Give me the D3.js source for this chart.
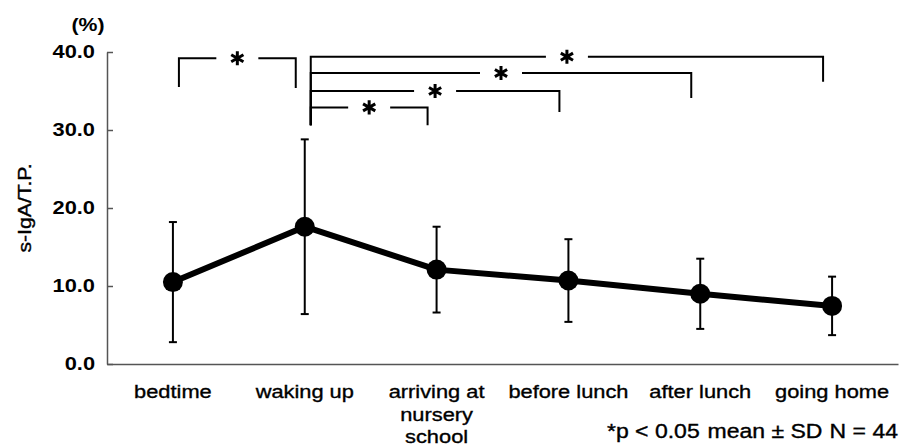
<!DOCTYPE html>
<html>
<head>
<meta charset="utf-8">
<script src="https://cdn.jsdelivr.net/npm/d3@7"></script>
<style>
  body { margin: 0; background: #fff; }
  text { font-family: "Liberation Sans", Arial, sans-serif; fill: #000; }
</style>
</head>
<body>
<div id="chart"></div>
<script>
// time points and mean ± SD of s-IgA/T.P. (%)
const categories = ['bedtime', 'waking up', 'arriving at nursery school', 'before lunch', 'after lunch', 'going home'];
const labelLines = [['bedtime'], ['waking up'], ['arriving at', 'nursery', 'school'], ['before lunch'], ['after lunch'], ['going home']];
const means = [10.5, 17.6, 12.1, 10.7, 9.0, 7.45];
const sds = [7.7, 11.2, 5.5, 5.3, 4.5, 3.75];
const yTicks = [0, 10, 20, 30, 40];

// significance brackets (indices into categories, heights in % units)
const compFrom = [0, 1, 1, 1, 1];
const compTo = [1, 2, 3, 4, 5];
const compLevel = [39.2, 32.9, 35.0, 37.3, 39.4];
const compLeftEnd = [35.5, 30.6, 30.6, 30.6, 30.6];
const compRightEnd = [35.4, 30.6, 32.3, 34.1, 36.2];

const W = 909, H = 446;
const margin = { top: 52, right: 11, bottom: 82, left: 107 };
const stretch = 1.18; // text in the original is a little wide

const svg = d3.select('#chart').append('svg')
  .attr('width', W).attr('height', H);

const x = d3.scaleBand()
  .domain(categories)
  .range([margin.left, W - margin.right]);
const cx = c => x(c) + x.bandwidth() / 2;

const y = d3.scaleLinear()
  .domain([0, 40])
  .range([H - margin.bottom, margin.top]);

function label(g, px, py, str, size, weight, anchor, rot) {
  const t = g.append('text')
    .attr('transform', `translate(${px},${py})` + (rot ? ` rotate(${rot})` : '') + ` scale(${stretch},1)`)
    .attr('text-anchor', anchor || 'middle')
    .style('font-size', size + 'px')
    .style('font-weight', weight || 'normal')
    .text(str);
  if (weight !== 'bold') t.attr('stroke', '#000').attr('stroke-width', 0.35);
  return t;
}

// y axis
const yAxis = svg.append('g')
  .attr('transform', `translate(${margin.left},0)`)
  .call(d3.axisLeft(y).tickValues(yTicks).tickFormat(d3.format('.1f'))
    .tickSizeInner(-6).tickSizeOuter(0).tickPadding(12));
yAxis.select('.domain').attr('stroke', '#555').attr('stroke-width', 1.5);
yAxis.selectAll('.tick line').attr('stroke', '#555').attr('stroke-width', 1.5);
yAxis.selectAll('.tick text')
  .attr('x', -12 / stretch)
  .attr('transform', `scale(${stretch},1)`)
  .style('font-family', '"Liberation Sans", Arial, sans-serif')
  .style('font-size', '18.5px')
  .style('font-weight', 'bold')
  .attr('fill', '#000');

// x axis
const xAxis = svg.append('g')
  .attr('transform', `translate(0,${y(0)})`)
  .call(d3.axisBottom(x).tickSize(0).tickSizeOuter(0).tickFormat(''));
xAxis.select('.domain').attr('stroke', '#555').attr('stroke-width', 1.5);

// category labels
categories.forEach((c, i) => {
  labelLines[i].forEach((ln, j) => {
    label(svg, cx(c), 398 + j * 22.5, ln, 18.5);
  });
});

label(svg, 88, 31, '(%)', 18, 'bold');
label(svg, 31, 208, 's-IgA/T.P.', 18, 'normal', 'middle', -90);

// footnote
label(svg, 607, 438, '*p < 0.05', 19.5, 'normal', 'start');
label(svg, 765, 438, 'mean ± SD', 19.5, 'normal', 'middle');
label(svg, 898, 438, 'N = 44', 19.5, 'normal', 'end');

// error bars
const eb = svg.append('g').attr('stroke', '#000').attr('stroke-width', 2);
categories.forEach((c, i) => {
  const hi = y(means[i] + sds[i]), lo = y(means[i] - sds[i]);
  eb.append('line').attr('x1', cx(c)).attr('x2', cx(c)).attr('y1', hi).attr('y2', lo);
  eb.append('line').attr('x1', cx(c) - 4).attr('x2', cx(c) + 4).attr('y1', hi).attr('y2', hi);
  eb.append('line').attr('x1', cx(c) - 4).attr('x2', cx(c) + 4).attr('y1', lo).attr('y2', lo);
});

// mean line + markers
const pts = categories.map((c, i) => [cx(c), y(means[i])]);
svg.append('path')
  .attr('d', d3.line()(pts))
  .attr('fill', 'none')
  .attr('stroke', '#000')
  .attr('stroke-width', 6)
  .attr('stroke-linejoin', 'round');
svg.selectAll('circle.pt').data(pts).join('circle')
  .attr('class', 'pt')
  .attr('cx', d => d[0]).attr('cy', d => d[1])
  .attr('r', 10).attr('fill', '#000');

// brackets with stars
const br = svg.append('g').attr('fill', 'none').attr('stroke', '#000').attr('stroke-width', 2);
const star = d3.symbol(d3.symbolAsterisk, 140);
compFrom.forEach((f, i) => {
  const x1 = cx(categories[f]) + 6;
  const x2 = cx(categories[compTo[i]]) - 9;
  const ly = y(compLevel[i]);
  const mid = (x1 + x2) / 2, gap = 21;
  const p = d3.path();
  p.moveTo(x1, y(compLeftEnd[i])); p.lineTo(x1, ly); p.lineTo(mid - gap, ly);
  p.moveTo(mid + gap, ly); p.lineTo(x2, ly); p.lineTo(x2, y(compRightEnd[i]));
  br.append('path').attr('d', p.toString());
  svg.append('path')
    .attr('d', star())
    .attr('transform', `translate(${mid},${ly})`)
    .attr('fill', 'none')
    .attr('stroke', '#000')
    .attr('stroke-width', 3);
});
</script>
</body>
</html>
